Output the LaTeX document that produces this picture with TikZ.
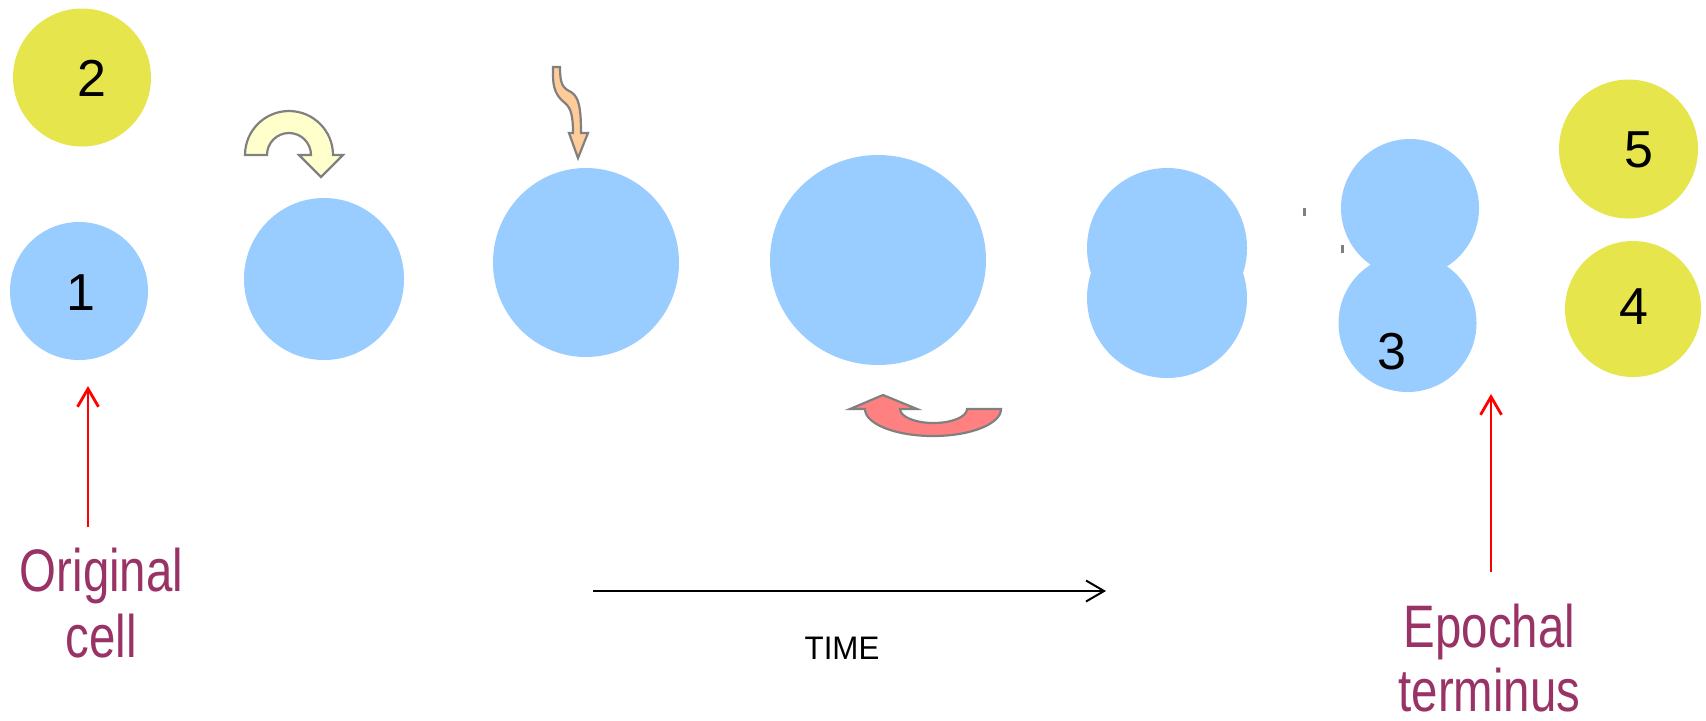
\documentclass[tikz,border=0pt]{standalone}
\usepackage{fontspec}
\setmainfont{Liberation Sans}
\usepackage{graphicx}
\usetikzlibrary{shapes.geometric,arrows.meta}
\definecolor{cellblue}{HTML}{99CCFF}
\definecolor{cellyellow}{HTML}{E6E64C}
\definecolor{turnyellow}{HTML}{FFFFCC}
\definecolor{wavyorange}{HTML}{FFCC99}
\definecolor{turnred}{HTML}{FF8080}
\definecolor{labelpurple}{HTML}{993366}
\definecolor{outlinegray}{HTML}{808080}
\begin{document}
\begin{tikzpicture}[x=0.5pt,y=-0.5pt,
  cellb/.style={ellipse, fill=cellblue, draw=none, inner sep=0pt, outer sep=0pt},
  celly/.style={ellipse, fill=cellyellow, draw=none, inner sep=0pt, outer sep=0pt},
  numlabel/.style={font=\fontsize{26}{30}\selectfont, inner sep=0pt},
  turnshape/.style={draw=outlinegray, line width=1.1pt},
  redarrow/.style={draw=red, line width=1.4pt, -{Straight Barb[length=9pt,width=10.5pt]}},
  timearrow/.style={draw=black, line width=1pt, -{Straight Barb[length=9pt,width=10.5pt]}},
  bigtext/.style={text=labelpurple, font=\fontsize{30}{33}\selectfont, align=center, inner sep=0pt, anchor=north},
  smalltext/.style={font=\fontsize{16.3}{19}\selectfont, inner sep=0pt}]
\useasboundingbox[fill=white] (0,0) rectangle (1706,720);

% cells
\node[celly, minimum width=69pt, minimum height=69pt] (c2) at (82,77.5) {};
\node[cellb, minimum width=69pt, minimum height=69pt] (c1) at (79,291) {};
\node[cellb, minimum width=80pt, minimum height=81pt] (ca) at (324,279) {};
\node[cellb, minimum width=93pt, minimum height=94.5pt] (cb) at (586,262.5) {};
\node[cellb, minimum width=108pt, minimum height=105pt] (cc) at (878,260) {};
\node[cellb, minimum width=80pt, minimum height=80pt] (cd1) at (1167,248) {};
\node[cellb, minimum width=80pt, minimum height=80pt] (cd2) at (1167,298) {};
\node[cellb, minimum width=69pt, minimum height=69pt] (ce1) at (1410,208) {};
\node[cellb, minimum width=69pt, minimum height=69pt] (ce2) at (1407.5,323) {};
\node[celly, minimum width=69.5pt, minimum height=69.5pt] (c5) at (1628.5,149) {};
\node[celly, minimum width=68pt, minimum height=68pt] (c4) at (1633,309) {};

% numbers
\node[numlabel] (n2) at (92,78) {2};
\node[numlabel] (n1) at (81,293) {1};
\node[numlabel] (n3) at (1392,352) {3};
\node[numlabel] (n5) at (1639,150) {5};
\node[numlabel] (n4) at (1634,307) {4};

% yellow U-turn arrow
\path[turnshape, fill=turnyellow] (245,155) arc[start angle=180, end angle=360, radius=44]
  -- (343,155) -- (321,177) -- (299,155) -- (311,155)
  arc[start angle=360, end angle=180, radius=22] -- cycle;

% orange wavy arrow
\path[turnshape, fill=wavyorange] (553,67) -- (560,67)
  .. controls (560,85) and (563,88) .. (571,92)
  .. controls (579,97) and (581,108) .. (581,133)
  -- (588,133) -- (578,158) -- (569,133) -- (573,133)
  .. controls (573,116) and (571,108) .. (565,103)
  .. controls (556,96) and (553,88) .. (553,75) -- cycle;

% red U-turn arrow
\path[turnshape, fill=turnred] (1001,409)
  arc[start angle=0, end angle=180, x radius=68, y radius=27]
  -- (850,409) -- (883,395) -- (917,409) -- (900,409)
  arc[start angle=180, end angle=0, x radius=33.5, y radius=14] -- cycle;

% small grey marks
\draw[outlinegray, line width=1.5pt] (1304,208) -- (1304,216);
\draw[outlinegray, line width=1.5pt] (1342,245) -- (1342,253);

% labels
\node[bigtext] (orig) at (101.5,548) {\scalebox{0.79}[1]{Original}\\\scalebox{0.79}[1]{cell}};
\node[bigtext, font=\fontsize{30}{32}\selectfont] (epoch) at (1489.5,604) {\scalebox{0.79}[1]{Epochal}\\\scalebox{0.79}[1]{terminus}};
\node[smalltext] (time) at (842,648) {\scalebox{0.96}[1]{TIME}};

% connectors
\coordinate (oa) at (88,527);
\coordinate (ob) at (88,386);
\draw[redarrow] (oa) -- (ob);
\coordinate (ea) at (1491,572);
\coordinate (eb) at (1491,394);
\draw[redarrow] (ea) -- (eb);
\coordinate (ta) at (593,591);
\coordinate (tb) at (1106,591);
\draw[timearrow] (ta) -- (tb);
\end{tikzpicture}
\end{document}
